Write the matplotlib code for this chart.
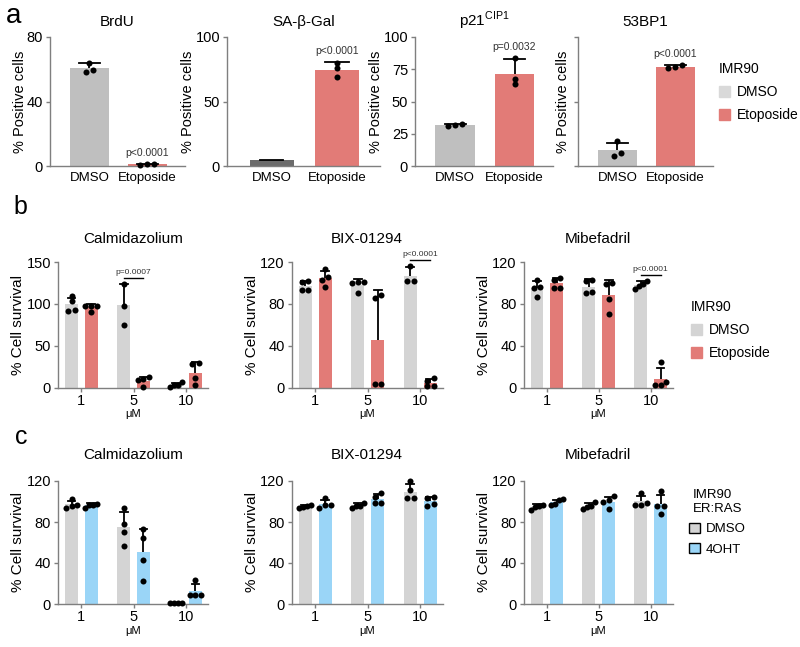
import numpy as np
import matplotlib.pyplot as plt
from matplotlib.patches import Patch

plt.rcParams['font.family'] = 'Liberation Sans'
plt.rcParams['mathtext.fontset'] = 'custom'
plt.rcParams['mathtext.rm'] = 'Liberation Sans'

W, H = 800, 647

# ---- panel a: % positive cells, DMSO vs etoposide
a_titles = ['BrdU', 'SA-β-Gal', 'p21$^{\\mathregular{CIP1}}$', '53BP1']
a_groups = ['DMSO', 'Etoposide']
a_dmso = [[64, 58.5, 59.5], [4.0, 4.4, 4.8], [30.8, 32.8, 31.5], [19, 10, 8]]
a_etop = [[0.8, 1.1, 1.2], [80, 75.6, 68.7], [84, 67.7, 63.3], [78, 76, 77]]
a_ymax = [80, 100, 100, 100]
a_yticks = [[0, 40, 80], [0, 50, 100], [0, 25, 50, 75, 100], [0, 50, 100]]
a_pvals = ['p<0.0001', 'p<0.0001', 'p=0.0032', 'p<0.0001']
a_dmso_colors = ['#bfbfbf', '#6b6b6b', '#bfbfbf', '#bfbfbf']
a_dmso_dots = [True, False, True, True]

# ---- panel b: % cell survival, IMR90 DMSO vs etoposide
conc = ['1', '5', '10']
drugs = ['Calmidazolium', 'BIX-01294', 'Mibefadril']
b_dmso = [
    [[109, 103, 92, 93], [124, 98, 75], [6, 1, 3, 3]],
    [[101, 102, 93, 93], [101, 100, 101, 90], [116, 102, 102]],
    [[103, 95, 96, 87], [103, 102, 91, 90], [102, 99, 97, 94]],
]
b_etop = [
    [[98, 98, 97, 90], [12, 9, 10, 1], [28, 29, 11, 3]],
    [[113, 103, 106, 96], [86, 88, 3, 3], [6, 9, 1, 1]],
    [[103, 105, 95, 95], [99, 100, 85, 70], [24, 5, 2, 2]],
]
b_ymax = [150, 120, 120]
b_yticks = [[0, 50, 100, 150], [0, 40, 80, 120], [0, 40, 80, 120]]
b_pvals = ['p=0.0007', 'p<0.0001', 'p<0.0001']
b_pgroup = [1, 2, 2]

# ---- panel c: % cell survival, IMR90 ER:RAS DMSO vs 4OHT
c_dmso = [
    [[94, 102, 96, 97], [94, 78, 70, 57], [0.5, 0.7, 0.8, 0.6]],
    [[94, 97, 96, 95], [94, 99, 96, 96], [120, 111, 103, 103]],
    [[92, 97, 96, 95], [100, 93, 96, 95], [108, 97, 97, 99]],
]
c_oht = [
    [[94, 98, 97, 97], [73, 64, 43, 22], [23, 9, 9, 9]],
    [[94, 103, 97, 97], [104, 108, 99, 99], [103, 104, 96, 98]],
    [[101, 102, 97, 98], [105, 101, 100, 93], [110, 96, 96, 88]],
]

GREY = '#d4d4d4'
RED = '#e27b77'
BLUE = '#9ad5f7'

fig = plt.figure(figsize=(8, 6.47), dpi=100)


def px_axes(x0, x1, y0, y1):
    return fig.add_axes([x0 / W, 1 - y1 / H, (x1 - x0) / W, (y1 - y0) / H])


def style(ax, xticklen=3):
    for s in ['top', 'right']:
        ax.spines[s].set_visible(False)
    for s in ['left', 'bottom']:
        ax.spines[s].set_color('#7f7f7f')
        ax.spines[s].set_linewidth(1)
    ax.tick_params(axis='y', colors='#7f7f7f', labelcolor='black', length=3, width=1, labelsize=10.5, pad=2)
    ax.tick_params(axis='x', colors='#7f7f7f', labelcolor='black', length=xticklen, width=1)


def swarm(vals, dx, tol, maxw):
    # spread near-equal values sideways, keep the spread inside the bar
    vals = np.asarray(vals, dtype=float)
    order = np.argsort(vals)
    offs = np.zeros(len(vals))
    clusters, cur = [], [order[0]]
    for i in order[1:]:
        if vals[i] - vals[cur[-1]] < tol:
            cur.append(i)
        else:
            clusters.append(cur)
            cur = [i]
    clusters.append(cur)
    for c in clusters:
        k = len(c)
        step = dx if k < 3 else min(dx, maxw / (k - 1))
        for j, idx in enumerate(c):
            offs[idx] = (j - (k - 1) / 2) * step
    return offs


def draw_bar(ax, x, vals, color, width, capw, dx, tol, dots=True):
    vals = np.asarray(vals, dtype=float)
    m = vals.mean()
    sd = vals.std(ddof=1) if len(vals) > 1 else 0
    ax.bar(x, m, width=width, color=color, edgecolor='none', zorder=1)
    ax.plot([x, x], [m, m + sd], color='black', lw=1.3, zorder=3, solid_capstyle='butt')
    ax.plot([x - capw / 2, x + capw / 2], [m + sd, m + sd], color='black', lw=1.3, zorder=3)
    if dots:
        ax.scatter(x + swarm(vals, dx, tol, width * 0.9), vals, s=19, color='black', zorder=4,
                   linewidths=0, clip_on=False)
    return max(m + sd, vals.max())


# ---------------- row a
a_boxes = [(50, 185), (227, 380), (415, 553), (578, 713)]
for i in range(4):
    x0, x1 = a_boxes[i]
    ax = px_axes(x0, x1, 37, 166)
    style(ax, xticklen=0)
    ymax = a_ymax[i]
    tol = ymax * 0.035
    draw_bar(ax, 0, a_dmso[i], a_dmso_colors[i], 0.67, 0.36, 0.12, tol, a_dmso_dots[i])
    top = draw_bar(ax, 1, a_etop[i], RED, 0.67, 0.36, 0.12, tol)
    ax.text(1, top + 11 / 129 * ymax, a_pvals[i], ha='center', va='center',
            fontsize=7.5, color='#333333')
    ax.set_xlim(-0.68, 1.65)
    ax.set_ylim(0, ymax)
    ax.set_yticks(a_yticks[i])
    if i == 3:
        ax.set_yticklabels([])
        ax.set_ylabel('% Positive cells', fontsize=10.5, labelpad=1)
    else:
        ax.set_ylabel('% Positive cells', fontsize=10.5, labelpad=0)
    ax.set_xticks([0, 1])
    ax.set_xticklabels(a_groups, fontsize=9.5)
    ax.tick_params(axis='x', pad=4)
    ax.set_title(a_titles[i], fontsize=11, pad=8)

fig.legend(handles=[Patch(color='#d9d9d9', label='DMSO'), Patch(color=RED, label='Etoposide')],
           title='IMR90', loc='upper left', bbox_to_anchor=(719 / W, 1 - 62 / H),
           frameon=False, fontsize=10, title_fontsize=10, handlelength=0.8, handleheight=0.8,
           handletextpad=0.5, labelspacing=0.65, borderpad=0, borderaxespad=0, alignment='left')

# ---------------- rows b and c
bc_x = [(58, 208), (291.5, 443), (523.5, 673)]
off = 0.19
bw = 0.25

for r, (dmso, other, other_color, y0, y1) in enumerate([
        (b_dmso, b_etop, RED, 262, 387.5),
        (c_dmso, c_oht, BLUE, 481, 604)]):
    for d in range(3):
        x0, x1 = bc_x[d]
        ax = px_axes(x0, x1, y0, y1)
        style(ax)
        ymax = b_ymax[d] if r == 0 else 120
        tol = ymax * 0.04
        tops = []
        for g in range(3):
            t1 = draw_bar(ax, g - off, dmso[d][g], GREY, bw, 0.15, 0.12, tol)
            t2 = draw_bar(ax, g + off, other[d][g], other_color, bw, 0.15, 0.12, tol)
            tops.append(max(t1, t2))
        if r == 0:
            g = b_pgroup[d]
            yb = tops[g] + 6 / 125 * ymax
            ax.plot([g - off, g + off], [yb, yb], color='black', lw=1, clip_on=False)
            ax.text(g, yb + 2 / 125 * ymax, b_pvals[d], ha='center', va='bottom',
                    fontsize=6, color='#333333', clip_on=False)
        ax.set_xlim(-0.45, 2.43)
        ax.set_ylim(0, ymax)
        ax.set_yticks(b_yticks[d] if r == 0 else [0, 40, 80, 120])
        ax.set_xticks([0, 1, 2])
        ax.set_xticklabels(conc, fontsize=10.5)
        ax.tick_params(axis='x', pad=1.5)
        ax.set_xlabel('μM', fontsize=8, labelpad=1)
        ax.set_ylabel('% Cell survival', fontsize=11, labelpad=1)
        ax.set_title(drugs[d], fontsize=11, pad=14 if r == 0 else 16)

fig.legend(handles=[Patch(color=GREY, label='DMSO'), Patch(color=RED, label='Etoposide')],
           title='IMR90', loc='upper left', bbox_to_anchor=(691 / W, 1 - 300 / H),
           frameon=False, fontsize=10, title_fontsize=10, handlelength=0.8, handleheight=0.8,
           handletextpad=0.5, labelspacing=0.65, borderpad=0, borderaxespad=0, alignment='left')

fig.legend(handles=[Patch(facecolor=GREY, edgecolor='black', lw=1, label='DMSO'),
                    Patch(facecolor=BLUE, edgecolor='black', lw=1, label='4OHT')],
           title='IMR90\nER:RAS', loc='upper left', bbox_to_anchor=(689 / W, 1 - 489 / H),
           frameon=False, fontsize=9.5, title_fontsize=9.5, handlelength=0.8, handleheight=0.8,
           handletextpad=0.5, labelspacing=0.6, borderpad=0, borderaxespad=0)

# panel letters
fig.text(14 / W, 1 - 16 / H, 'a', fontsize=20, ha='center', va='center')
fig.text(20 / W, 1 - 207 / H, 'b', fontsize=18, ha='center', va='center')
fig.text(21 / W, 1 - 437 / H, 'c', fontsize=18, ha='center', va='center')

fig.savefig('out.png', dpi=100, facecolor='white')
